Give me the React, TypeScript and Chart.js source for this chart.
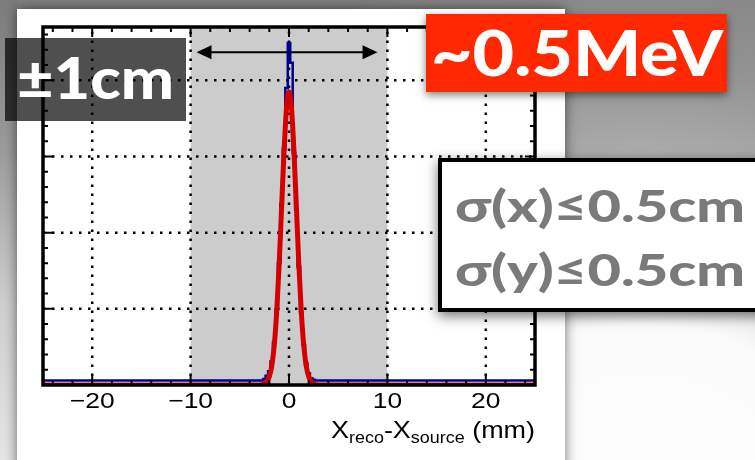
import React, { useEffect, useRef } from 'react';
import { Chart, registerables } from 'chart.js';

Chart.register(...registerables);

// ---- data ----
const xTickValues = [-20, -10, 0, 10, 20];
const yGridValues = [1, 2, 3, 4];
const bandRange = [-10, 10];
const arrowRange = [-9.4, 9.0];
const arrowLevel = 4.37;

// reconstructed-minus-source histogram (bin centres, mm) and contents
const histX = [-25, -2.75, -2.5, -2.25, -2.0, -1.75, -1.5, -1.25, -1.0, -0.75, -0.5, -0.25, 0, 0.25, 0.5, 0.75, 1.0, 1.25, 1.5, 1.75, 2.0, 2.25, 2.5, 2.75, 25];
const histY = [0.06, 0.06, 0.08, 0.12, 0.18, 0.31, 0.56, 0.99, 1.6, 2.38, 3.1, 3.9, 4.49, 4.23, 3.05, 2.3, 1.55, 0.95, 0.53, 0.28, 0.15, 0.09, 0.07, 0.06, 0.06];

// gaussian fit curve
const fitX = [-25, -3, -2.5, -2.25, -2, -1.75, -1.5, -1.25, -1, -0.75, -0.5, -0.25, 0, 0.25, 0.5, 0.75, 1, 1.25, 1.5, 1.75, 2, 2.25, 2.5, 3, 25];
const fitY = [0, 0, 0.015, 0.045, 0.11, 0.25, 0.52, 0.96, 1.58, 2.34, 3.08, 3.64, 3.85, 3.64, 3.08, 2.34, 1.58, 0.96, 0.52, 0.25, 0.11, 0.045, 0.015, 0, 0];

const labelRes = '~0.5MeV';
const labelRange = '\u00B11cm';
const labelSigX = '\u03C3(x)\u22640.5cm';
const labelSigY = '\u03C3(y)\u22640.5cm';

function stretchText(ctx: CanvasRenderingContext2D, text: string, x: number, y: number, font: string, targetW: number, color: string) {
  ctx.save();
  ctx.font = font;
  ctx.fillStyle = color;
  ctx.textAlign = 'left';
  ctx.textBaseline = 'alphabetic';
  const w = ctx.measureText(text).width;
  ctx.translate(x, y);
  ctx.scale(targetW / w, 1);
  ctx.fillText(text, 0, 0);
  ctx.restore();
}

const fmtTick = (v: number) => (v < 0 ? '\u2212' + Math.abs(v) : String(v));

const decor = {
  id: 'decor',
  beforeDraw(chart: any) {
    const ctx: CanvasRenderingContext2D = chart.ctx;
    const W = chart.width, H = chart.height;
    ctx.save();
    const g = ctx.createRadialGradient(640, 560, 0, 640, 560, 620);
    g.addColorStop(0, '#ffffff');
    g.addColorStop(0.38, '#fbfbfb');
    g.addColorStop(0.6, '#b5b5b5');
    g.addColorStop(0.8, '#939393');
    g.addColorStop(1, '#828282');
    ctx.fillStyle = g;
    ctx.fillRect(0, 0, W, H);
    const lg = ctx.createLinearGradient(0, 0, 0, H);
    lg.addColorStop(0, '#7c7c7c');
    lg.addColorStop(0.33, '#9c9c9c');
    lg.addColorStop(0.66, '#cfcfcf');
    lg.addColorStop(1, '#e6e6e6');
    ctx.fillStyle = lg;
    ctx.fillRect(0, 0, 17, H);
    // white panel
    ctx.shadowColor = 'rgba(0,0,0,0.55)';
    ctx.shadowBlur = 12;
    ctx.fillStyle = '#ffffff';
    ctx.fillRect(17, 9, 548, H + 20);
    ctx.restore();
  },
  beforeDatasetsDraw(chart: any) {
    const ctx: CanvasRenderingContext2D = chart.ctx;
    const a = chart.chartArea;
    const xs = chart.scales.x, ys = chart.scales.y;
    ctx.save();
    const b0 = xs.getPixelForValue(bandRange[0]);
    const b1 = xs.getPixelForValue(bandRange[1]);
    ctx.fillStyle = '#cccccc';
    ctx.fillRect(b0, a.top, b1 - b0, a.bottom - a.top);
    ctx.strokeStyle = '#000';
    ctx.lineWidth = 2.5;
    ctx.setLineDash([2.5, 6.5]);
    for (const v of xTickValues) {
      const px = xs.getPixelForValue(v);
      ctx.beginPath();
      ctx.moveTo(px, a.bottom);
      ctx.lineTo(px, a.top);
      ctx.stroke();
    }
    for (const v of yGridValues) {
      const py = ys.getPixelForValue(v);
      ctx.beginPath();
      ctx.moveTo(a.left, py);
      ctx.lineTo(a.right, py);
      ctx.stroke();
    }
    ctx.restore();
  },
  afterDatasetsDraw(chart: any) {
    const ctx: CanvasRenderingContext2D = chart.ctx;
    const a = chart.chartArea;
    const xs = chart.scales.x, ys = chart.scales.y;
    ctx.save();
    ctx.strokeStyle = '#000';
    ctx.lineWidth = 2;
    ctx.beginPath();
    for (let v = -24; v <= 24; v += 2) {
      const px = xs.getPixelForValue(v);
      const len = v % 10 === 0 ? 10 : 5;
      ctx.moveTo(px, a.bottom); ctx.lineTo(px, a.bottom - len);
      ctx.moveTo(px, a.top); ctx.lineTo(px, a.top + len);
    }
    for (let i = 1; i < 24; i++) {
      const v = i * 0.2;
      const py = ys.getPixelForValue(v);
      const len = i % 5 === 0 ? 10 : 5;
      ctx.moveTo(a.left, py); ctx.lineTo(a.left + len, py);
      ctx.moveTo(a.right, py); ctx.lineTo(a.right - len, py);
    }
    ctx.stroke();
    ctx.lineWidth = 3.5;
    ctx.strokeRect(a.left, a.top, a.right - a.left, a.bottom - a.top);
    ctx.restore();

    // x tick labels (slightly stretched like the slide)
    ctx.save();
    ctx.fillStyle = '#000';
    ctx.font = '22px "Liberation Sans"';
    ctx.textBaseline = 'alphabetic';
    ctx.textAlign = 'center';
    for (const t of xs.ticks) {
      const px = xs.getPixelForValue(t.value);
      ctx.save();
      ctx.translate(px, a.bottom + 23);
      ctx.scale(1.2, 1);
      ctx.fillText(fmtTick(t.value), 0, 0);
      ctx.restore();
    }
    ctx.restore();
  },
  afterDraw(chart: any) {
    const ctx: CanvasRenderingContext2D = chart.ctx;
    const xs = chart.scales.x, ys = chart.scales.y;
    ctx.save();
    // double arrow for the +-1 cm window
    const ax0 = xs.getPixelForValue(arrowRange[0]);
    const ax1 = xs.getPixelForValue(arrowRange[1]);
    const ay = ys.getPixelForValue(arrowLevel);
    ctx.strokeStyle = '#000';
    ctx.fillStyle = '#000';
    ctx.lineWidth = 2;
    ctx.beginPath();
    ctx.moveTo(ax0 + 8, ay); ctx.lineTo(ax1 - 8, ay);
    ctx.stroke();
    ctx.beginPath();
    ctx.moveTo(ax0, ay); ctx.lineTo(ax0 + 15, ay - 7); ctx.lineTo(ax0 + 15, ay + 7); ctx.closePath();
    ctx.fill();
    ctx.beginPath();
    ctx.moveTo(ax1, ay); ctx.lineTo(ax1 - 15, ay - 7); ctx.lineTo(ax1 - 15, ay + 7); ctx.closePath();
    ctx.fill();

    // x axis title with subscripts
    const parts = [
      { t: 'X', s: 24, dy: 0 },
      { t: 'reco', s: 16, dy: 5 },
      { t: '-X', s: 24, dy: 0 },
      { t: 'source', s: 16, dy: 5 },
      { t: ' (mm)', s: 24, dy: 0 },
    ];
    let tot = 0;
    for (const p of parts) { ctx.font = `${p.s}px "Liberation Sans"`; tot += ctx.measureText(p.t).width; }
    const targetW = 204;
    const sc = targetW / tot;
    const tx = xs.right - targetW;
    ctx.translate(tx, 438);
    ctx.scale(sc, 1);
    ctx.fillStyle = '#000';
    ctx.textBaseline = 'alphabetic';
    let cx = 0;
    for (const p of parts) {
      ctx.font = `${p.s}px "Liberation Sans"`;
      ctx.fillText(p.t, cx, p.dy);
      cx += ctx.measureText(p.t).width;
    }
    ctx.restore();

    // +-1cm translucent box
    ctx.save();
    ctx.fillStyle = 'rgba(0,0,0,0.69)';
    ctx.fillRect(5, 38, 181, 83);
    ctx.restore();
    stretchText(ctx, labelRange, 17, 99, '900 57px Lato', 157, '#ffffff');

    // ~0.5MeV red box
    ctx.save();
    ctx.shadowColor = 'rgba(0,0,0,0.5)';
    ctx.shadowBlur = 8;
    ctx.shadowOffsetY = 3;
    ctx.fillStyle = '#ff2800';
    ctx.fillRect(426, 14, 301, 78);
    ctx.restore();
    stretchText(ctx, labelRes, 431, 76, '900 62px Lato', 292, '#ffffff');

    // sigma box
    ctx.save();
    ctx.shadowColor = 'rgba(0,0,0,0.55)';
    ctx.shadowBlur = 12;
    ctx.shadowOffsetY = 4;
    ctx.fillStyle = '#ffffff';
    ctx.fillRect(438, 158, 340, 154);
    ctx.restore();
    ctx.save();
    ctx.strokeStyle = '#000';
    ctx.lineWidth = 4;
    ctx.strokeRect(440, 160, 340, 150);
    ctx.restore();
    stretchText(ctx, labelSigX, 455, 222, '900 44px Lato', 290, '#7a7a7a');
    stretchText(ctx, labelSigY, 455, 286, '900 44px Lato', 290, '#7a7a7a');
  },
};

export default function App() {
  const ref = useRef<HTMLCanvasElement>(null);
  useEffect(() => {
    const chart = new Chart(ref.current as HTMLCanvasElement, {
      type: 'line',
      data: {
        datasets: [
          {
            label: 'fit',
            data: fitX.map((x, i) => ({ x, y: fitY[i] })),
            borderColor: '#d60000',
            borderWidth: 5,
            pointRadius: 0,
            cubicInterpolationMode: 'monotone',
            fill: false,
          },
          {
            label: 'hist',
            data: histX.map((x, i) => ({ x, y: histY[i] })),
            borderColor: '#00008f',
            borderWidth: 2.5,
            pointRadius: 0,
            stepped: 'middle',
            fill: false,
          },
        ],
      } as any,
      options: {
        responsive: false,
        animation: false,
        events: [],
        layout: { padding: { left: 43, right: 220, top: 27, bottom: 0 } },
        plugins: { legend: { display: false }, tooltip: { enabled: false } },
        scales: {
          x: {
            type: 'linear',
            min: -25,
            max: 25,
            afterBuildTicks: (s: any) => { s.ticks = xTickValues.map((v) => ({ value: v })); },
            afterFit: (s: any) => { s.height = 75; },
            grid: { display: false },
            border: { display: false },
            ticks: { display: false },
          },
          y: { type: 'linear', display: false, min: 0, max: 4.7 },
        },
      } as any,
      plugins: [decor],
    });
    return () => chart.destroy();
  }, []);
  return (
    <div style={{ position: 'fixed', left: 0, top: 0, width: 755, height: 460 }}>
      <canvas ref={ref} width={755} height={460} style={{ display: 'block' }} />
    </div>
  );
}
